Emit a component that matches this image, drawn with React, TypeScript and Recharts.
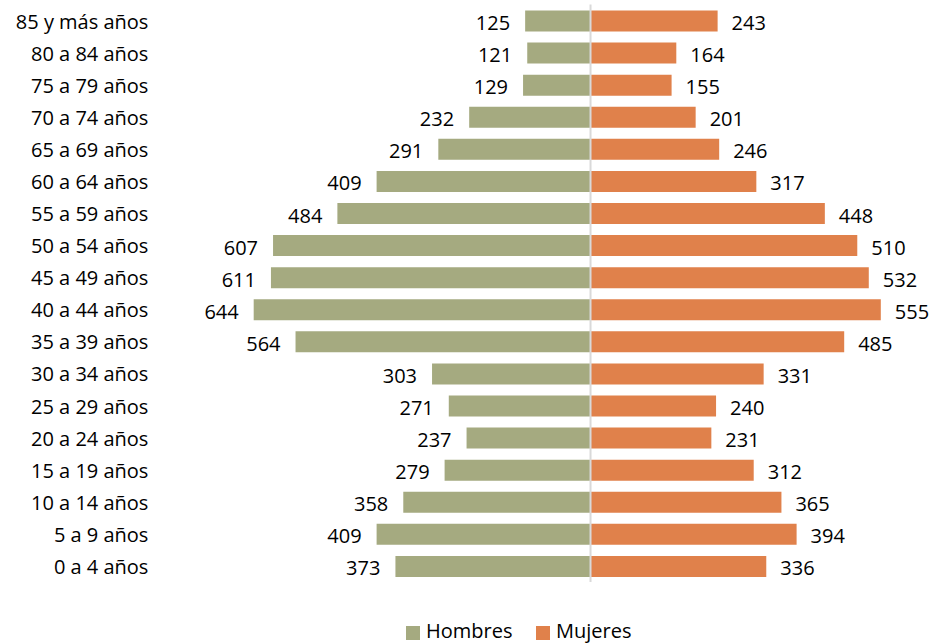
import React from "react";
import { BarChart, Bar, XAxis, YAxis, ReferenceLine, LabelList, Legend } from "recharts";

const grupos = [
  "85 y más años", "80 a 84 años", "75 a 79 años", "70 a 74 años", "65 a 69 años",
  "60 a 64 años", "55 a 59 años", "50 a 54 años", "45 a 49 años", "40 a 44 años",
  "35 a 39 años", "30 a 34 años", "25 a 29 años", "20 a 24 años", "15 a 19 años",
  "10 a 14 años", "5 a 9 años", "0 a 4 años",
];
const hombres = [125, 121, 129, 232, 291, 409, 484, 607, 611, 644, 564, 303, 271, 237, 279, 358, 409, 373];
const mujeres = [243, 164, 155, 201, 246, 317, 448, 510, 532, 555, 485, 331, 240, 231, 312, 365, 394, 336];

const data = grupos.map((g, i) => ({
  grupo: g,
  hombres: -hombres[i],
  hombresAbs: hombres[i],
  mujeres: mujeres[i],
}));

const FONT = "'Open Sans', sans-serif";
const GREEN = "#A5AA80";
const ORANGE = "#E0814B";

const YTick = (props: any) => {
  const { x, y, payload } = props;
  return (
    <text x={x} y={y + 8} textAnchor="end" fontSize={20} fontFamily={FONT} fill="#000">
      {payload.value}
    </text>
  );
};

const leftLabel = (props: any) => {
  const { x, y, width, height, value } = props;
  const left = Math.min(x, x + width);
  return (
    <text x={left - 15} y={y + height / 2 + 9} textAnchor="end" fontSize={20} fontFamily={FONT} fill="#000">
      {Math.abs(value)}
    </text>
  );
};

const rightLabel = (props: any) => {
  const { x, y, width, height, value } = props;
  const right = Math.max(x, x + width);
  return (
    <text x={right + 14} y={y + height / 2 + 9} textAnchor="start" fontSize={20} fontFamily={FONT} fill="#000">
      {value}
    </text>
  );
};

const LegendContent = () => (
  <div style={{ position: "relative", width: 936, height: 24, fontFamily: FONT, fontSize: 20, color: "#000" }}>
    <div style={{ position: "absolute", left: 406, top: 8, width: 14, height: 14, background: GREEN }} />
    <div style={{ position: "absolute", left: 426, top: 3, lineHeight: "20px", whiteSpace: "nowrap" }}>Hombres</div>
    <div style={{ position: "absolute", left: 536, top: 8, width: 14, height: 14, background: ORANGE }} />
    <div style={{ position: "absolute", left: 556, top: 3, lineHeight: "20px", whiteSpace: "nowrap" }}>Mujeres</div>
  </div>
);

export default function App() {
  return (
    <div style={{ position: "absolute", left: 0, top: 0, width: 936, height: 643, background: "#fff" }}>
      <BarChart
        width={936}
        height={643}
        data={data}
        layout="vertical"
        stackOffset="sign"
        margin={{ top: 4.5, right: 5.5, bottom: 37, left: 0 }}
      >
        <XAxis type="number" domain={[-700, 650]} hide allowDataOverflow />
        <YAxis
          type="category"
          dataKey="grupo"
          width={224.4}
          axisLine={false}
          tickLine={false}
          tickSize={0}
          tickMargin={76}
          tick={<YTick />}
          interval={0}
        />
        <Bar dataKey="hombres" name="Hombres" stackId="a" fill={GREEN} barSize={21} isAnimationActive={false}>
          <LabelList dataKey="hombresAbs" content={leftLabel} />
        </Bar>
        <Bar dataKey="mujeres" name="Mujeres" stackId="a" fill={ORANGE} barSize={21} isAnimationActive={false}>
          <LabelList dataKey="mujeres" content={rightLabel} />
        </Bar>
        <ReferenceLine x={0} stroke="#D9D9D9" strokeWidth={2} />
        <Legend
          content={<LegendContent />}
          wrapperStyle={{ position: "absolute", left: 0, top: 618, bottom: "auto", width: 936, height: 24 }}
        />
      </BarChart>
    </div>
  );
}
